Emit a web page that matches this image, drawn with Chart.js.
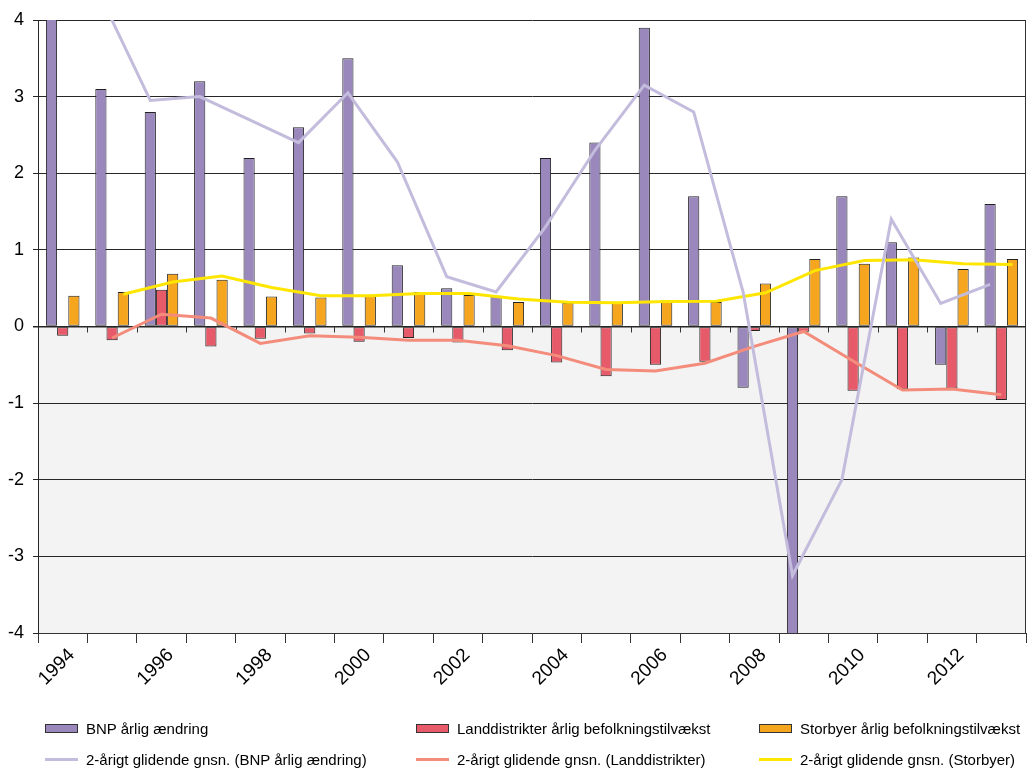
<!DOCTYPE html>
<html>
<head>
<meta charset="utf-8">
<script src="https://cdn.jsdelivr.net/npm/chart.js@4.4.1/dist/chart.umd.min.js"></script>
<style>
  html, body { margin: 0; padding: 0; background: #fff; }
  #wrap { position: relative; width: 1028px; height: 769px; overflow: hidden; }
  #c { position: absolute; left: 0; top: 0; }
  .lg { position: absolute; height: 20px; display: flex; align-items: center;
        font: 15px 'Liberation Sans', Arial, sans-serif; color: #000; white-space: nowrap; }
  .lg .sw { width: 31px; height: 7px; border: 1px solid #333; margin-right: 8px; }
  .lg .ln { width: 33px; height: 3px; margin-right: 8px; }
</style>
</head>
<body>
<div id="wrap">
  <canvas id="c" width="1028" height="769"></canvas>
  <div id="legend"></div>
</div>
<script>
// Years on the category axis (one group of three bars per year)
const years = ['1994','1995','1996','1997','1998','1999','2000','2001','2002','2003',
               '2004','2005','2006','2007','2008','2009','2010','2011','2012','2013'];
// Only every second year is labelled
const xTickLabels = ['1994','','1996','','1998','','2000','','2002','',
                     '2004','','2006','','2008','','2010','','2012',''];

// BNP årlig ændring (%), 1994 and 2009 run past the axis range
const bnp = [5.5, 3.1, 2.8, 3.2, 2.2, 2.6, 3.5, 0.8, 0.5, 0.4,
             2.2, 2.4, 3.9, 1.7, -0.8, -5.7, 1.7, 1.1, -0.5, 1.6];
// Landdistrikter årlig befolkningstilvækst (%)
const land = [-0.12, -0.18, 0.48, -0.26, -0.16, -0.09, -0.20, -0.15, -0.21, -0.31,
              -0.47, -0.65, -0.50, -0.46, -0.06, -0.07, -0.84, -0.82, -0.81, -0.96];
// Storbyer årlig befolkningstilvækst (%)
const stor = [0.40, 0.45, 0.69, 0.61, 0.39, 0.38, 0.41, 0.45, 0.41, 0.32,
              0.31, 0.31, 0.34, 0.32, 0.56, 0.88, 0.82, 0.90, 0.75, 0.88];

// 2-årigt glidende gennemsnit for each series (no value for the first year)
const bnpAvg = [null, 4.3, 2.95, 3.0, 2.7, 2.4, 3.05, 2.15, 0.65, 0.45,
                1.3, 2.3, 3.15, 2.8, 0.45, -3.25, -2.0, 1.4, 0.3, 0.55];
const landAvg = [null, -0.15, 0.16, 0.11, -0.22, -0.12, -0.14, -0.18, -0.18, -0.25,
                 -0.38, -0.56, -0.58, -0.48, -0.26, -0.065, -0.45, -0.83, -0.815, -0.89];
const storAvg = [null, 0.42, 0.58, 0.66, 0.51, 0.40, 0.40, 0.43, 0.43, 0.36,
                 0.315, 0.31, 0.325, 0.33, 0.44, 0.73, 0.86, 0.87, 0.82, 0.81];

const FONT = "'Liberation Sans', Arial, sans-serif";
const C = {
  bnp: '#9a88bd', land: '#e65a6a', stor: '#f5a51e',
  bnpAvg: '#c4bcdc', landAvg: '#f48c7c', storAvg: '#ffe600',
  edge: '#222'
};

// Plot background: white above zero, light grey below
const plotBg = {
  id: 'plotBg',
  beforeDraw(chart) {
    const { ctx, chartArea: a } = chart;
    const z = chart.scales.y.getPixelForValue(0);
    ctx.save();
    ctx.fillStyle = '#f3f3f3';
    ctx.fillRect(a.left, z, a.right - a.left, a.bottom - z);
    ctx.restore();
  },
  beforeDatasetsDraw(chart) {
    // small category ticks hanging below the zero line
    const { ctx, chartArea: a } = chart;
    const x = chart.scales.x, z = chart.scales.y.getPixelForValue(0);
    const n = x.ticks.length;
    ctx.save();
    ctx.strokeStyle = '#333';
    ctx.lineWidth = 1;
    ctx.beginPath();
    for (let i = 1; i < n; i++) {
      const px = Math.round((x.getPixelForTick(i - 1) + x.getPixelForTick(i)) / 2) + 0.5;
      ctx.moveTo(px, z);
      ctx.lineTo(px, z + 6);
    }
    ctx.stroke();
    // right-hand frame of the plot
    ctx.beginPath();
    ctx.moveTo(Math.round(a.right) - 0.5, a.top);
    ctx.lineTo(Math.round(a.right) - 0.5, a.bottom);
    ctx.stroke();
    ctx.restore();
  }
};

// Moving-average lines sit on the bars of the series they average
const avgOnBars = {
  id: 'avgOnBars',
  afterDatasetsUpdate(chart) {
    chart.data.datasets.forEach((ds, i) => {
      if (ds.barRef === undefined) return;
      const pts = chart.getDatasetMeta(i).data;
      const bars = chart.getDatasetMeta(ds.barRef).data;
      pts.forEach((p, j) => { if (bars[j]) p.x = bars[j].x; });
    });
  }
};

const barDs = (label, data, color) => ({
  type: 'bar', label, data, backgroundColor: color,
  borderColor: C.edge, borderWidth: 1, borderSkipped: false,
  categoryPercentage: 0.68, barPercentage: 1.0, order: 2, clip: 0
});
const lineDs = (label, data, color, barRef) => ({
  type: 'line', label, data, borderColor: color, backgroundColor: color,
  borderWidth: 3, pointRadius: 0, tension: 0, fill: false, order: 1,
  clip: 0, barRef
});

const chart = new Chart(document.getElementById('c'), {
  data: {
    labels: years,
    datasets: [
      barDs('BNP årlig ændring', bnp, C.bnp),
      barDs('Landdistrikter årlig befolkningstilvækst', land, C.land),
      barDs('Storbyer årlig befolkningstilvækst', stor, C.stor),
      lineDs('2-årigt glidende gnsn. (BNP årlig ændring)', bnpAvg, C.bnpAvg, 0),
      lineDs('2-årigt glidende gnsn. (Landdistrikter)', landAvg, C.landAvg, 1),
      lineDs('2-årigt glidende gnsn. (Storbyer)', storAvg, C.storAvg, 2)
    ]
  },
  options: {
    responsive: false,
    animation: false,
    layout: { padding: { top: 20, right: 2, left: 0, bottom: 0 } },
    plugins: { legend: { display: false }, tooltip: { enabled: false } },
    scales: {
      x: {
        type: 'category',
        grid: { offset: true, drawOnChartArea: false, tickLength: 10, color: '#333' },
        border: { display: true, color: '#333', width: 1 },
        ticks: {
          autoSkip: false, minRotation: 45, maxRotation: 45, padding: 1, labelOffset: 9,
          color: '#000', font: { family: FONT, size: 19 },
          callback: (v, i) => xTickLabels[i]
        },
        afterFit: s => { s.height = 136; }
      },
      y: {
        min: -4, max: 4,
        ticks: { stepSize: 1, color: '#000', padding: 9, font: { family: FONT, size: 18 } },
        grid: {
          tickLength: 5,
          color: '#262626',
          lineWidth: ctx => (ctx.tick && ctx.tick.value === 0 ? 1.5 : 1)
        },
        border: { display: true, color: '#262626', width: 1 },
        afterFit: s => { s.width = 38; }
      }
    }
  },
  plugins: [plotBg, avgOnBars]
});

// Legend in three columns, two rows, built from the chart's datasets
const legendPos = [
  { x: 45, y: 718 }, { x: 416, y: 718 }, { x: 759, y: 718 },
  { x: 45, y: 749 }, { x: 416, y: 749 }, { x: 759, y: 749 }
];
const legendOrder = [0, 1, 2, 3, 4, 5];
const legendEl = document.getElementById('legend');
legendOrder.forEach((di, k) => {
  const ds = chart.data.datasets[di];
  const item = document.createElement('div');
  item.className = 'lg';
  item.style.left = legendPos[k].x + 'px';
  item.style.top = legendPos[k].y + 'px';
  const mark = document.createElement('span');
  if (ds.type === 'bar') { mark.className = 'sw'; mark.style.background = ds.backgroundColor; }
  else { mark.className = 'ln'; mark.style.background = ds.borderColor; }
  const txt = document.createElement('span');
  txt.textContent = ds.label;
  item.appendChild(mark);
  item.appendChild(txt);
  legendEl.appendChild(item);
});
</script>
</body>
</html>
